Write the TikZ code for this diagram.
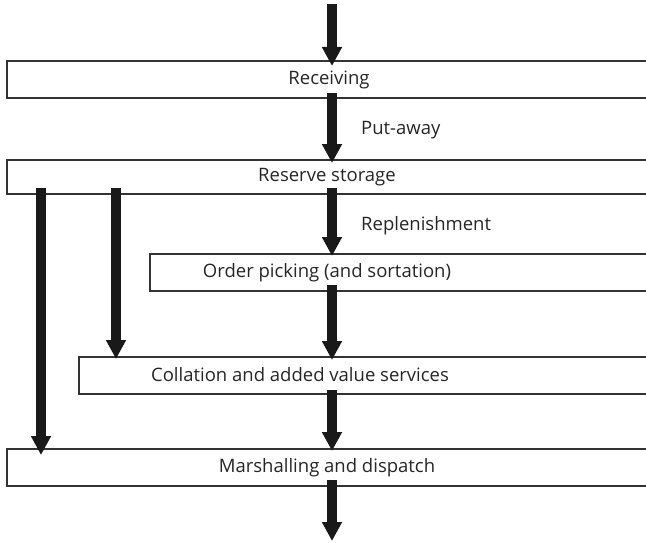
\documentclass[tikz,border=0pt]{standalone}
\usepackage{fontspec}
\setmainfont{Open Sans}
\usetikzlibrary{arrows.meta}
\begin{document}
\begin{tikzpicture}[x=1pt,y=-1pt,
  box/.style={draw=black!80,line width=1.6pt,fill=white,minimum height=37pt,inner sep=0pt,outer sep=0pt,anchor=north west},
  lbl/.style={font=\fontsize{18.5}{22}\selectfont,text=black!85,inner sep=0pt},
  bigarrow/.style={draw=black!90,line width=10pt,-{Triangle[width=19pt,length=19pt]}}]
\useasboundingbox (0,0) rectangle (646,543);
\clip (0,0) rectangle (646,543);
% boxes
\node[box,minimum width=660pt] (rcv) at (7,61) {};
\node[box,minimum width=660pt,minimum height=34pt] (res) at (7,160) {};
\node[box,minimum width=520pt] (ord) at (150,254) {};
\node[box,minimum width=590pt] (col) at (79,357) {};
\node[box,minimum width=660pt] (mar) at (7,449) {};
% texts
\node[lbl] (rcvt) at (329,80) {Receiving};
\node[lbl] (rest) at (327,177) {Reserve storage};
\node[lbl] (ordt) at (327,273) {Order picking (and sortation)};
\node[lbl] (colt) at (300,375) {Collation and added value services};
\node[lbl] (mart) at (327,468) {Marshalling and dispatch};
\node[lbl,anchor=west] (pa) at (361,130) {Put-away};
\node[lbl,anchor=west] (rep) at (361,226) {Replenishment};
% coordinates
\coordinate (top) at (332,4);
\coordinate (bot) at (332,541);
% arrows
\draw[bigarrow] (top) -- ([yshift=-5pt]rcv.north -| top);
\draw[bigarrow] ([yshift=5pt]rcv.south -| top) -- ([yshift=-3pt]res.north -| top);
\draw[bigarrow] ([yshift=6pt]res.south -| top) -- ([yshift=-2pt]ord.north -| top);
\draw[bigarrow] ([yshift=6pt]ord.south -| top) -- ([yshift=-3pt]col.north -| top);
\draw[bigarrow] ([yshift=4pt]col.south -| top) -- ([yshift=-2pt]mar.north -| top);
\draw[bigarrow] ([yshift=6pt]mar.south -| top) -- (bot);
\coordinate (la) at (41,0);
\coordinate (lb) at (116,0);
\draw[bigarrow] ([yshift=6pt]res.south -| la) -- ([yshift=-6pt]mar.north -| la);
\draw[bigarrow] ([yshift=6pt]res.south -| lb) -- ([yshift=-2pt]col.north -| lb);
\end{tikzpicture}
\end{document}
